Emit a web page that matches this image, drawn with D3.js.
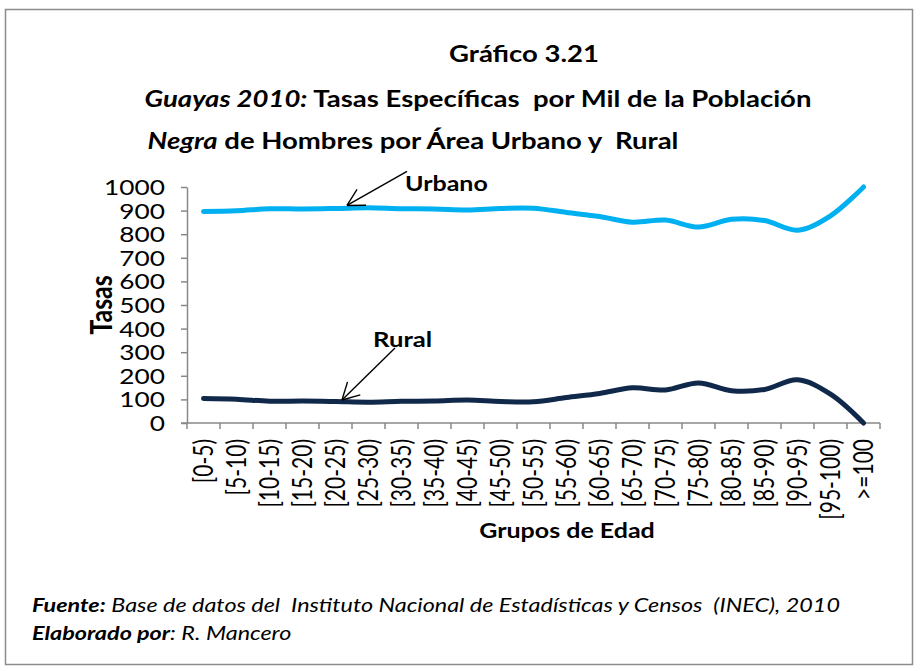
<!DOCTYPE html>
<html>
<head>
<meta charset="utf-8">
<script src="https://cdn.jsdelivr.net/npm/d3@7"></script>
<style>
  html, body { margin: 0; padding: 0; background: #fff; }
  svg { display: block; font-family: Lato, "Open Sans", sans-serif; }
  svg text { white-space: pre; }
</style>
</head>
<body>
<svg id="chart" width="922" height="671"></svg>
<script>
// Age groups and specific rates per thousand (men, Afro-Ecuadorian population, Guayas 2010)
const ageGroups = ["[0-5)", "[5-10)", "[10-15)", "[15-20)", "[20-25)", "[25-30)", "[30-35)",
  "[35-40)", "[40-45)", "[45-50)", "[50-55)", "[55-60)", "[60-65)", "[65-70)", "[70-75)",
  "[75-80)", "[80-85)", "[85-90)", "[90-95)", "[95-100)", ">=100"];
const urbano = [896, 899, 908, 907, 909, 912, 908, 907, 903, 909, 910, 892, 875, 851, 860, 830, 863, 858, 817, 878, 1000];
const rural  = [104, 101, 92, 93, 91, 88, 92, 93, 97, 91, 90, 108, 125, 149, 140, 170, 137, 142, 183, 122, 0];
const yTicks = [0, 100, 200, 300, 400, 500, 600, 700, 800, 900, 1000];

const svg = d3.select("#chart");
const SX = 1.25; // horizontal stretch applied to all lettering

// place a text at (x, y), optionally rotated, with the common horizontal stretch
function label(x, y, size, rotate) {
  return svg.append("text")
    .attr("transform", `translate(${x},${y}) scale(${SX},1)` + (rotate ? ` rotate(${rotate})` : ""))
    .attr("font-size", size).attr("fill", "#000");
}

// outer frame
svg.append("rect")
  .attr("x", 5.5).attr("y", 9.5).attr("width", 907).attr("height", 655)
  .attr("fill", "#fff").attr("stroke", "#8c8c8c").attr("stroke-width", 1.5);

// title block
label(524, 62, 22).attr("text-anchor", "middle").attr("font-weight", "bold").text("Gráfico 3.21");

const t2 = label(478, 107, 22).attr("text-anchor", "middle").attr("font-weight", "bold");
t2.append("tspan").attr("font-style", "italic").text("Guayas 2010:");
t2.append("tspan").text(" Tasas Específicas  por Mil de la Población");

svg.append("clipPath").attr("id", "titleClip")
  .append("rect").attr("x", 0).attr("y", 120).attr("width", 922).attr("height", 33);
const t3g = svg.append("g").attr("clip-path", "url(#titleClip)");
const t3 = t3g.append("text")
  .attr("transform", `translate(413,149) scale(${SX},1)`)
  .attr("font-size", 22).attr("font-weight", "bold").attr("text-anchor", "middle");
t3.append("tspan").attr("font-style", "italic").text("Negra");
t3.append("tspan").text(" de Hombres por Área Urbano y  Rural");

// scales
const x = d3.scaleBand().domain(ageGroups).range([187, 880]);
const y = d3.scaleLinear().domain([0, 1000]).range([423, 187]);
const cx = d => x(d) + x.bandwidth() / 2;

// y axis
const yAxis = svg.append("g").attr("transform", "translate(187,0)")
  .call(d3.axisLeft(y).tickValues(yTicks).tickFormat(d3.format("d")).tickSize(6).tickSizeOuter(0));
yAxis.select(".domain").attr("stroke", "#888").attr("stroke-width", 1.5);
yAxis.selectAll(".tick line").attr("stroke", "#888").attr("stroke-width", 1.5);
yAxis.selectAll(".tick text").attr("x", 0).attr("dy", "0.36em")
  .attr("transform", `translate(-22,0) scale(${SX},1)`)
  .attr("font-size", 21).attr("fill", "#000").attr("font-family", "Lato, sans-serif");

// x axis with ticks at category boundaries
const xAxisG = svg.append("g").attr("transform", "translate(0,423)");
xAxisG.append("line").attr("x1", 181).attr("x2", x.range()[1])
  .attr("stroke", "#888").attr("stroke-width", 1.5);
const bounds = ageGroups.map(d => x(d)).concat([x.range()[1]]);
xAxisG.selectAll("line.tk").data(bounds).enter().append("line").attr("class", "tk")
  .attr("x1", d => d).attr("x2", d => d).attr("y1", 0).attr("y2", 6)
  .attr("stroke", "#888").attr("stroke-width", 1.5);
ageGroups.forEach(d => {
  label(cx(d) + 9, 439, 21, -90).attr("text-anchor", "end").text(d);
});

// axis titles
label(112, 305, 25, -90).attr("text-anchor", "middle").attr("font-weight", "bold").text("Tasas");
label(567, 538, 20).attr("text-anchor", "middle").attr("font-weight", "bold").text("Grupos de Edad");

// smoothed series lines
const line = d3.line().x((d, i) => cx(ageGroups[i])).y(d => y(d)).curve(d3.curveCatmullRom.alpha(0.5));
svg.append("path").datum(urbano).attr("d", line)
  .attr("fill", "none").attr("stroke", "#00B0F0").attr("stroke-width", 5).attr("stroke-linecap", "round");
svg.append("path").datum(rural).attr("d", line)
  .attr("fill", "none").attr("stroke", "#10294A").attr("stroke-width", 5).attr("stroke-linecap", "round");

// callouts with open arrowheads
function arrow(x1, y1, x2, y2) {
  const g = svg.append("g").attr("stroke", "#000").attr("stroke-width", 1.4).attr("fill", "none");
  g.append("line").attr("x1", x1).attr("y1", y1).attr("x2", x2).attr("y2", y2);
  const ang = Math.atan2(y1 - y2, x1 - x2), len = 19, spread = 0.5;
  [ang - spread, ang + spread].forEach(a => {
    g.append("line").attr("x1", x2).attr("y1", y2)
      .attr("x2", x2 + len * Math.cos(a)).attr("y2", y2 + len * Math.sin(a));
  });
}
const uTipX = x("[25-30)") - 5, uTipY = y(urbano[4]) - 3;
arrow(uTipX + 60, uTipY - 34, uTipX, uTipY);
label(uTipX + 58, 191, 20).attr("font-weight", "bold").text("Urbano");

const rTipX = x("[25-30)") - 10, rTipY = y(rural[4]) - 1.5;
arrow(rTipX + 53, rTipY - 52, rTipX, rTipY);
label(rTipX + 31, 347, 20.5).attr("font-weight", "bold").text("Rural");

// source note
const f1 = label(32, 612, 18.7).attr("font-style", "italic");
f1.append("tspan").attr("font-weight", "bold").text("Fuente:");
f1.append("tspan").text(" Base de datos del  Instituto Nacional de Estadísticas y Censos  (INEC), 2010");
const f2 = label(32, 640, 18.7).attr("font-style", "italic");
f2.append("tspan").attr("font-weight", "bold").text("Elaborado por");
f2.append("tspan").text(": R. Mancero");
</script>
</body>
</html>
